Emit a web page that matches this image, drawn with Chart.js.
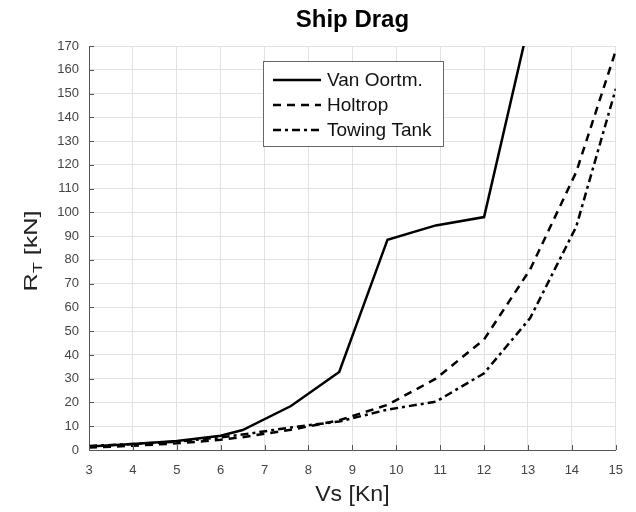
<!DOCTYPE html>
<html>
<head>
<meta charset="utf-8">
<script src="https://cdn.jsdelivr.net/npm/chart.js@4.4.0/dist/chart.umd.min.js"></script>
<style>
  html, body { margin: 0; padding: 0; background: #fff; }
  #wrap { width: 636px; height: 512px; }
</style>
</head>
<body>
<div id="wrap"><canvas id="drag" width="636" height="512"></canvas></div>
<script>
const speeds = [3, 4, 5, 6, 6.5, 7.6, 8.7, 9.8, 10.9, 12, 13.05, 14.1, 15]
const vanOortm = [1.5, 2.5, 3.8, 6, 8.4, 18.5, 32.8, 88.5, 94.5, 98, 182, 300, 420]
const holtrop = [1, 1.8, 2.8, 4.3, 5.4, 8.5, 12.5, 19, 30, 46.5, 76, 117, 168]
const towingTank = [1.7, 2.5, 3.5, 5.3, 6.5, 9.5, 12, 17, 20.3, 32.3, 55.5, 94, 152]
const seriesNames = ['Van Oortm.', 'Holtrop', 'Towing Tank']

const font = "'Liberation Sans', Arial, sans-serif"
const pts = (ys) => speeds.map((x, i) => ({x: x, y: ys[i]}))

// inward ticks, axis titles and the boxed legend
const extras = {
  id: 'extras',
  afterDraw(chart) {
    const c = chart.ctx
    const a = chart.chartArea
    const xs = chart.scales.x, ys = chart.scales.y
    c.save()
    c.strokeStyle = '#555'
    c.lineWidth = 1
    c.beginPath()
    xs.ticks.forEach(t => {
      const px = Math.round(xs.getPixelForValue(t.value)) + 0.5
      c.moveTo(px, a.bottom); c.lineTo(px, a.bottom - 5)
    })
    ys.ticks.forEach(t => {
      const py = Math.round(ys.getPixelForValue(t.value)) + 0.5
      c.moveTo(a.left, py); c.lineTo(a.left + 5, py)
    })
    c.stroke()

    // x title
    c.fillStyle = '#222'
    c.font = '22px ' + font
    c.textAlign = 'center'
    c.textBaseline = 'middle'
    c.save()
    c.translate((a.left + a.right) / 2, 495)
    c.scale(1.05, 1)
    c.fillText('Vs [Kn]', 0, 0)
    c.restore()

    // y title with subscript (the source text is stretched along its length)
    c.translate(31, 251)
    c.rotate(-Math.PI / 2)
    c.scale(1.4, 1)
    c.textAlign = 'left'
    c.textBaseline = 'alphabetic'
    const big = '18px ' + font, small = '13px ' + font
    c.font = big; const wR = c.measureText('R').width
    c.font = small; const wT = c.measureText('T').width
    c.font = big; const wRest = c.measureText(' [kN]').width
    let x0 = -(wR + wT + wRest) / 2
    c.font = big; c.fillText('R', x0, 6)
    c.font = small; c.fillText('T', x0 + wR, 11)
    c.font = big; c.fillText(' [kN]', x0 + wR + wT, 6)
    c.restore()

    // legend
    c.save()
    const bx = 263, by = 61, bw = 180, bh = 85
    c.fillStyle = '#fff'
    c.fillRect(bx, by, bw, bh)
    c.strokeStyle = '#666'
    c.lineWidth = 1
    c.strokeRect(bx + 0.5, by + 0.5, bw, bh)
    chart.data.datasets.forEach((ds, i) => {
      const ly = 80 + i * 25
      c.strokeStyle = ds.borderColor
      c.lineWidth = ds.borderWidth
      c.setLineDash(ds.borderDash || [])
      c.beginPath(); c.moveTo(273, ly); c.lineTo(321, ly); c.stroke()
      c.setLineDash([])
      c.fillStyle = '#111'
      c.font = '19px ' + font
      c.textAlign = 'left'
      c.textBaseline = 'middle'
      c.fillText(ds.label, 327, ly + 1)
    })
    c.restore()
  }
}

new Chart(document.getElementById('drag'), {
  type: 'line',
  data: {
    datasets: [
      {label: seriesNames[0], data: pts(vanOortm), borderColor: '#000', borderWidth: 2.5, borderDash: []},
      {label: seriesNames[1], data: pts(holtrop), borderColor: '#000', borderWidth: 2.5, borderDash: [8, 6]},
      {label: seriesNames[2], data: pts(towingTank), borderColor: '#000', borderWidth: 2.5, borderDash: [8, 4, 3, 4]}
    ]
  },
  options: {
    responsive: false,
    animation: false,
    events: [],
    elements: {point: {radius: 0}, line: {tension: 0, fill: false}},
    layout: {padding: {left: 10, right: 20, top: 4, bottom: 0}},
    plugins: {
      legend: {display: false},
      tooltip: {enabled: false},
      title: {
        display: true,
        text: 'Ship Drag',
        fullSize: false,
        color: '#000',
        font: {family: font, size: 24, weight: 'bold', lineHeight: 1.2},
        padding: {top: 2, bottom: 11.2}
      }
    },
    scales: {
      x: {
        type: 'linear',
        min: 3, max: 15,
        afterFit: (s) => { s.height = 62 },
        ticks: {stepSize: 1, color: '#444', font: {family: font, size: 13}, padding: 13, maxRotation: 0},
        grid: {color: '#e2e2e2', drawTicks: false},
        border: {color: '#555'}
      },
      y: {
        min: 0, max: 170,
        afterFit: (s) => { s.width = 79 },
        ticks: {stepSize: 10, color: '#444', font: {family: font, size: 13}, padding: 10},
        grid: {color: '#e2e2e2', drawTicks: false},
        border: {color: '#555'}
      }
    }
  },
  plugins: [extras]
})
</script>
</body>
</html>
